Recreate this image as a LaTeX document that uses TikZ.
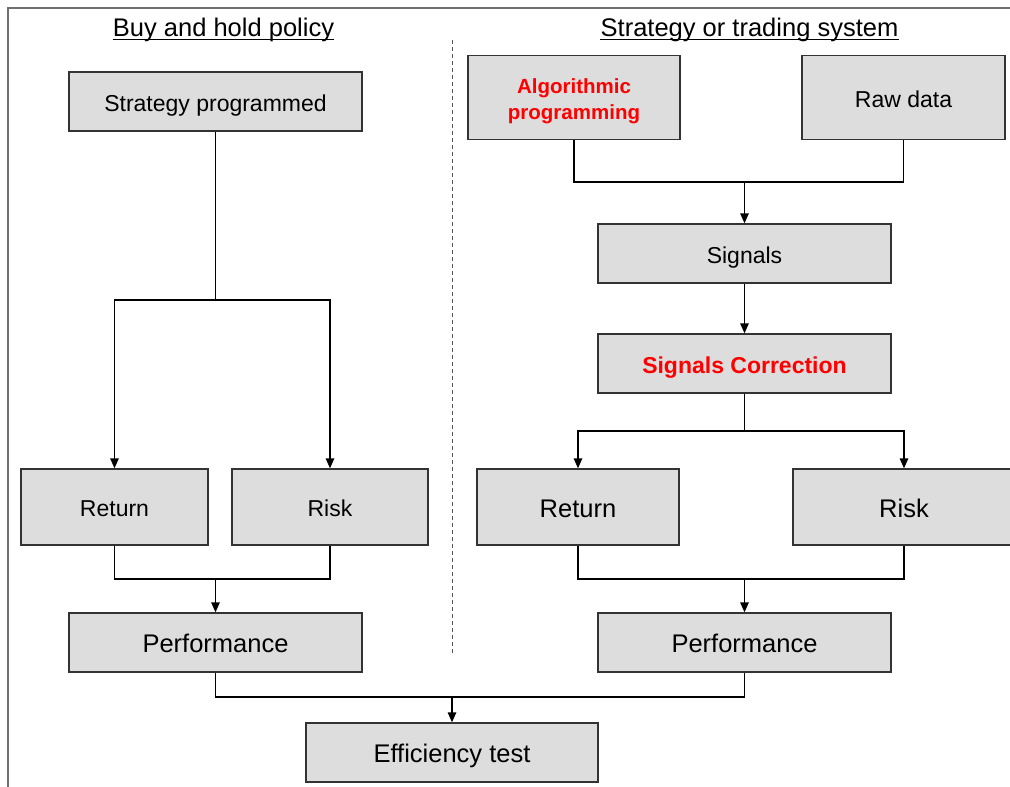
\documentclass[tikz,border=0pt]{standalone}
\usepackage{fontspec}
\setmainfont{Liberation Sans}
\usetikzlibrary{arrows.meta}
\newcommand{\smallfs}{\fontsize{23}{27}\selectfont}
\newcommand{\bigfs}{\fontsize{25.5}{30}\selectfont}
\newcommand{\algfs}{\fontsize{20.5}{26}\selectfont}
\definecolor{boxfill}{HTML}{DDDDDD}
\definecolor{boxline}{HTML}{333333}
\definecolor{framecol}{HTML}{707070}
\definecolor{dashcol}{HTML}{555555}
\definecolor{redcol}{HTML}{FF0000}
\tikzset{
  box/.style={draw=boxline, fill=boxfill, line width=1.4pt, rectangle, inner sep=0pt, align=center, text=black},
  smallbox/.style={box, font=\smallfs, text height=19.5pt, text depth=0pt},
  bigbox/.style={box, font=\bigfs, text height=20.5pt, text depth=0pt},
  conn/.style={draw=black, line width=1.4pt},
  arr/.style={conn, -{Triangle[length=10pt,width=8.5pt]}},
}
\begin{document}
\begin{tikzpicture}[x=1pt,y=-1pt]
\useasboundingbox (0,0) rectangle (1010,787);
% frame
\draw[framecol, line width=1.5pt] (8,787) -- (8,8) -- (1010,8);
% divider
\draw[dashcol, line width=1pt, dash pattern=on 4pt off 3pt] (452,40) -- (452,655);
% titles
\node[anchor=base, inner sep=0pt, font=\bigfs] (t1) at (223.5,36) {Buy and hold policy};
\draw[line width=1.8pt] ([yshift=-3.5pt]t1.base west) -- ([yshift=-3.5pt]t1.base east);
\node[anchor=base, inner sep=0pt, font=\bigfs] (t2) at (749.5,36) {Strategy or trading system};
\draw[line width=1.8pt] ([yshift=-3.5pt]t2.base west) -- ([yshift=-3.5pt]t2.base east);
% left boxes
\node[smallbox, minimum width=293pt, minimum height=59pt] (sp) at (215.5,101.5) {Strategy programmed};
\node[smallbox, minimum width=187pt, minimum height=76pt] (retL) at (114.5,507) {Return};
\node[smallbox, minimum width=196pt, minimum height=76pt] (riskL) at (330,507) {Risk};
\node[bigbox, minimum width=293pt, minimum height=59pt] (perfL) at (215.5,642.5) {Performance};
% right boxes
\node[box, minimum width=212pt, minimum height=84pt] (alg) at (574,97.5) {};
\node[inner sep=0pt, align=center, text=redcol, font=\algfs\bfseries] (algtext) at (574,101) {Algorithmic\\programming};
\node[smallbox, minimum width=203pt, minimum height=84pt] (raw) at (903.5,97.5) {Raw data};
\node[smallbox, minimum width=293pt, minimum height=59pt] (sig) at (744.5,253.5) {Signals};
\node[smallbox, text=redcol, font=\smallfs\bfseries, minimum width=293pt, minimum height=59pt] (sigc) at (744.5,363.5) {Signals Correction};
\node[bigbox, minimum width=202pt, minimum height=76pt] (retR) at (578,507) {Return};
\node[bigbox, minimum width=222pt, minimum height=76pt] (riskR) at (904,507) {Risk};
\node[bigbox, minimum width=293pt, minimum height=59pt] (perfR) at (744.5,642.5) {Performance};
% bottom
\node[bigbox, minimum width=292pt, minimum height=59pt] (eff) at (452,752.5) {Efficiency test};
% junctions
\coordinate (j1) at (215.5,300);
\coordinate (j2) at (215.5,579);
\coordinate (j3) at (744.5,182);
\coordinate (j4) at (744.5,431);
\coordinate (j5) at (744.5,579);
\coordinate (j6) at (452,697);
% left connectors
\draw[conn] (sp.south) -- (j1);
\draw[arr] (j1) -| (retL.north);
\draw[arr] (j1) -| (riskL.north);
\draw[conn] (retL.south) |- (j2) -| (riskL.south);
\draw[arr] (j2) -- (perfL.north);
% right connectors
\draw[conn] (alg.south) |- (j3) -| (raw.south);
\draw[arr] (j3) -- (sig.north);
\draw[arr] (sig.south) -- (sigc.north);
\draw[conn] (sigc.south) -- (j4);
\draw[arr] (j4) -| (retR.north);
\draw[arr] (j4) -| (riskR.north);
\draw[conn] (retR.south) |- (j5) -| (riskR.south);
\draw[arr] (j5) -- (perfR.north);
% bottom connectors
\draw[conn] (perfL.south) |- (j6) -| (perfR.south);
\draw[arr] (j6) -- (eff.north);
\end{tikzpicture}
\end{document}
